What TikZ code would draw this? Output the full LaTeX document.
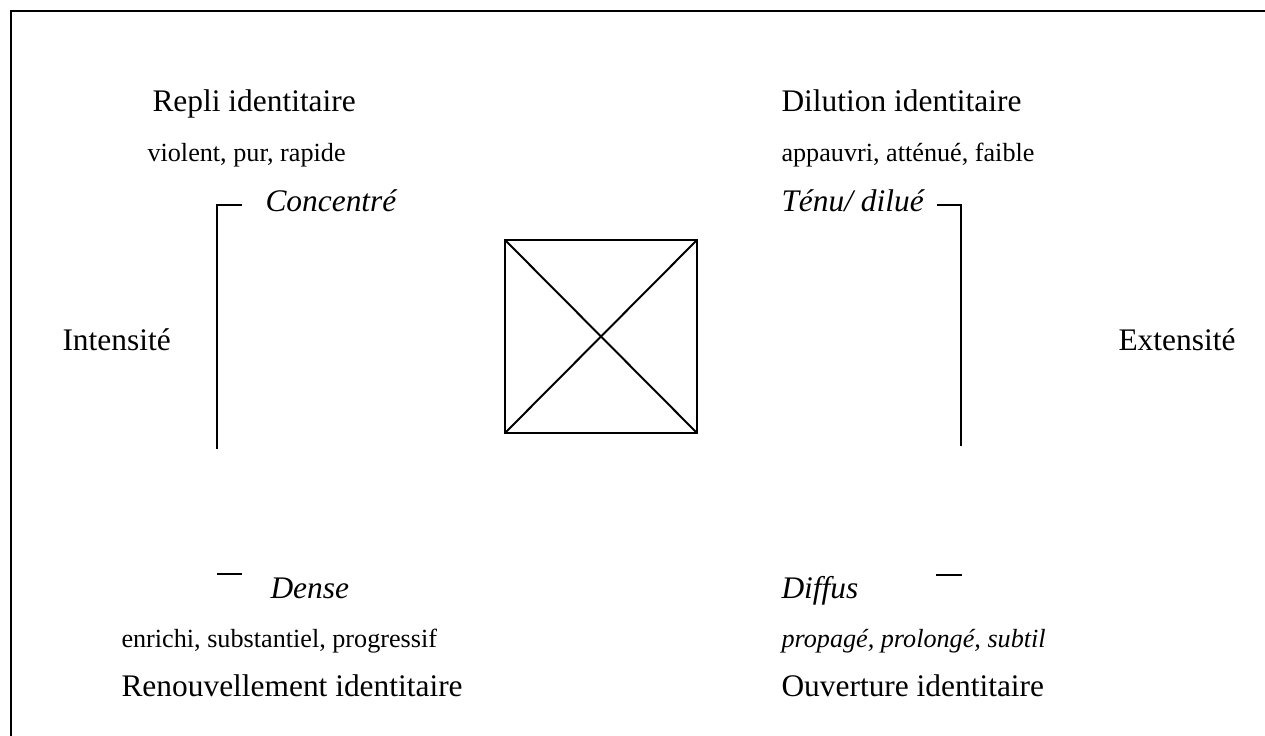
\documentclass[tikz,border=0pt]{standalone}
\usepackage{fontspec}
\setmainfont{Liberation Serif}
\usetikzlibrary{positioning}
\tikzset{
  heading/.style={
    font=\fontsize{12}{14}\selectfont, anchor=base west, inner sep=0pt,
  },
  qualif/.style={
    font=\fontsize{10}{12}\selectfont, anchor=base west, inner sep=0pt,
  },
  pole/.style={
    font=\fontsize{12}{14}\selectfont\itshape, anchor=base west, inner sep=0pt,
  },
  frameline/.style={line width=1.1pt},
  bracketline/.style={line width=0.75pt},
}

\begin{document}
\begin{tikzpicture}[x=0.382pt, y=-0.382pt]
  \useasboundingbox (0,0) rectangle (1265,736);

  % === Frame (runs off the right and bottom edges) ===
  \draw[frameline] (11,11) rectangle (1300,780);

  % === Left side: intensity ===
  \node[heading] (repli) at (152,112) {Repli identitaire};
  \node[qualif] (violent) at (147,162) {violent, pur, rapide};
  \node[pole] (concentre) at (265,212) {Concentré};
  \node[heading] (intensite) at (62,351) {Intensité};
  \node[pole] (dense) at (270,599) {Dense};
  \node[qualif] (enrichi) at (121,648) {enrichi, substantiel, progressif};
  \node[heading] (renouv) at (121,697) {Renouvellement identitaire};

  % === Right side: extensity ===
  \node[heading] (dilution) at (781,112) {Dilution identitaire};
  \node[qualif] (appauvri) at (781,162) {appauvri, atténué, faible};
  \node[pole] (tenu) at (781,212) {Ténu/ dilué};
  \node[heading] (extensite) at (1118,351) {Extensité};
  \node[pole] (diffus) at (781,599) {Diffus};
  \node[qualif, font=\fontsize{10}{12}\selectfont\itshape] (propage) at (781,648) {propagé, prolongé, subtil};
  \node[heading] (ouverture) at (781,697) {Ouverture identitaire};

  % === Brackets ===
  \draw[bracketline] (242,205) -- (217,205) -- (217,449);
  \draw[bracketline] (217,574) -- (242,574);
  \draw[bracketline] (937,205) -- (961,205) -- (961,446);
  \draw[bracketline] (936,575) -- (962,575);

  % === Crossed square in the middle ===
  \coordinate (sqA) at (505,240);
  \coordinate (sqB) at (697,433);
  \draw[bracketline] (sqA) rectangle (sqB);
  \draw[bracketline] (sqA) -- (sqB);
  \draw[bracketline] (sqA |- sqB) -- (sqB |- sqA);

\end{tikzpicture}
\end{document}
